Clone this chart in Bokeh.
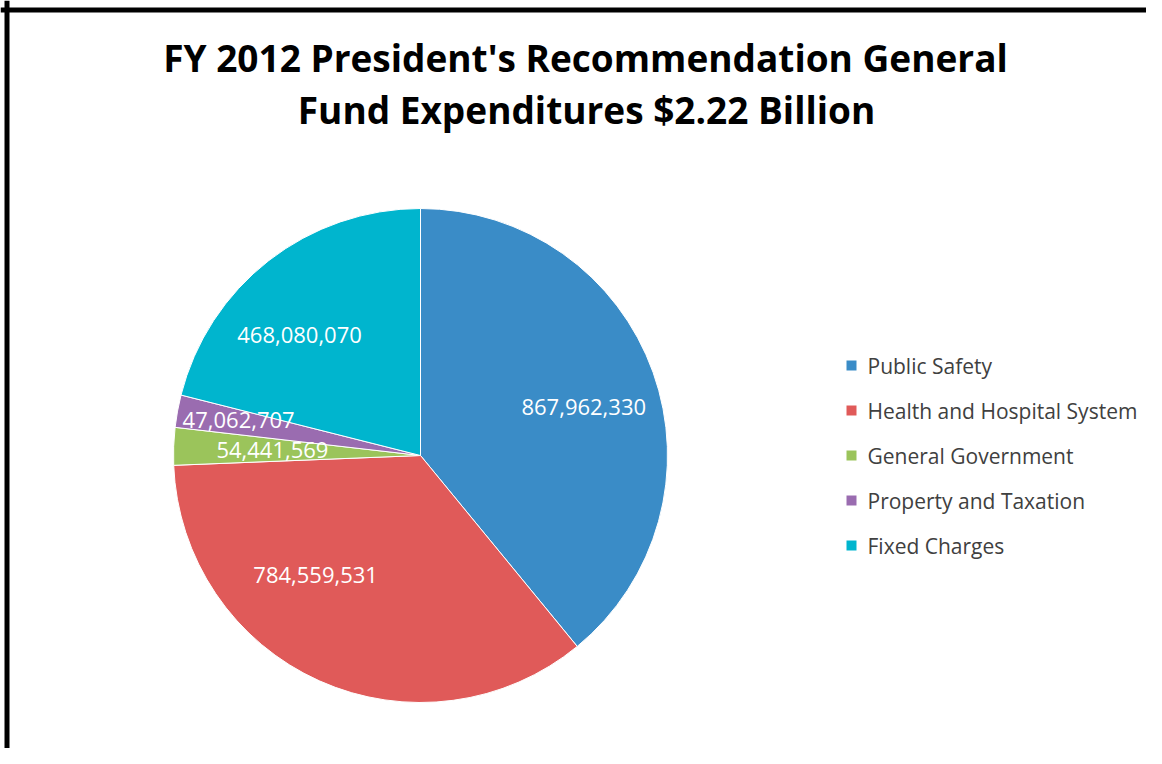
import math
from bokeh.plotting import figure
from bokeh.models import Range1d, Span, ColumnDataSource
from bokeh.core.properties import value
from bokeh.embed import file_html
from bokeh.resources import INLINE

# ---- data ----
categories = ["Public Safety", "Health and Hospital System", "General Government",
              "Property and Taxation", "Fixed Charges"]
amounts = [867962330, 784559531, 54441569, 47062707, 468080070]
title_lines = ["FY 2012 President's Recommendation General",
               "Fund Expenditures $2.22 Billion"]

# ---- style / layout ----
colors = ["#3A8CC7", "#E05A59", "#9BC45B", "#9A6CB0", "#00B5CE"]
W, H = 1146, 748
cx, cy, R = 420, H - 455, 247
label_radius = [0.69, 0.645, 0.60, 0.75, 0.69]
label_turn = [-3.0, -17.0, 0.0, -0.6, 7.3]

total = float(sum(amounts))
starts, ends, lx, ly, labels = [], [], [], [], []
cum = 0.0
for i, a in enumerate(amounts):
    s = math.pi / 2 - cum / total * 2 * math.pi
    cum += a
    e = math.pi / 2 - cum / total * 2 * math.pi
    starts.append(s)
    ends.append(e)
    mid = (s + e) / 2 + math.radians(label_turn[i])
    lx.append(cx + R * label_radius[i] * math.cos(mid))
    ly.append(cy + R * label_radius[i] * math.sin(mid))
    labels.append(f"{a:,}")

p = figure(width=W, height=H, output_backend="svg", toolbar_location=None,
           x_range=Range1d(0, W), y_range=Range1d(0, H),
           x_axis_location=None, y_axis_location=None, min_border=0,
           background_fill_color="white", border_fill_color="white")
p.grid.visible = False
p.outline_line_color = None

src = ColumnDataSource(dict(start=starts, end=ends, color=colors, cat=categories))
p.wedge(x=cx, y=cy, radius=R, start_angle="start", end_angle="end",
        direction="clock", fill_color="color", line_color="white",
        line_width=1, source=src)

p.text(x=lx, y=ly, text=labels, text_color="white",
       text_font=value("Open Sans"), text_font_size="22px",
       text_align="center", text_baseline="middle")

# title
p.text(x=[585, 586], y=[H - 57, H - 109], text=title_lines, text_color="black",
       text_font=value("Open Sans"), text_font_style="bold", text_font_size="37px",
       text_align="center", text_baseline="alphabetic")

# legend
leg_x, leg_top, leg_step = 851, H - 365, 45
leg_y = [leg_top - i * leg_step for i in range(len(categories))]
p.scatter(x=[leg_x] * len(categories), y=leg_y, marker="square", size=10,
          fill_color=colors, line_color=None)
p.text(x=[leg_x + 16] * len(categories), y=leg_y, text=categories,
       text_color="#404040", text_font=value("Open Sans"), text_font_size="21px",
       text_align="left", text_baseline="middle")

# frame lines (top & left)
p.add_layout(Span(location=H - 9.5, dimension="width", line_color="black", line_width=5))
p.add_layout(Span(location=6.5, dimension="height", line_color="black", line_width=5))

open("out.html", "w").write(file_html(p, INLINE))
